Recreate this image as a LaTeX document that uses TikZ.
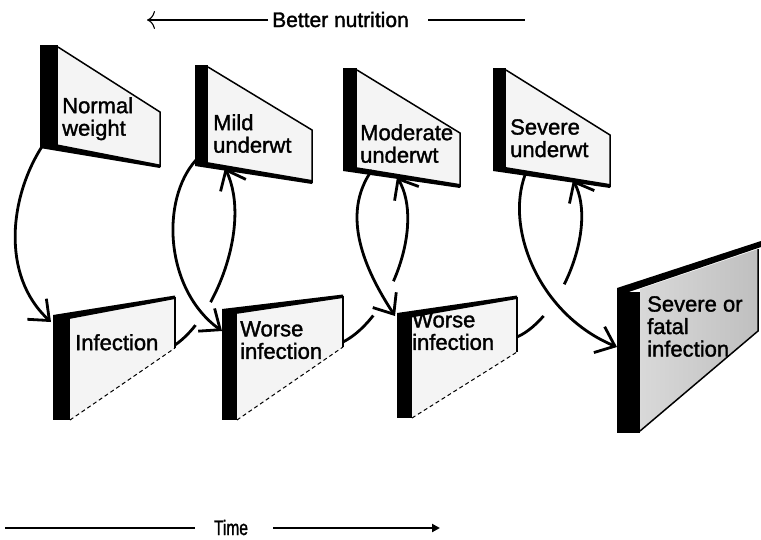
\documentclass[tikz,border=0pt]{standalone}
\usepackage{fontspec}
\setmainfont{Liberation Sans}[FakeBold=1.5]
\usetikzlibrary{arrows.meta}
\begin{document}
\begin{tikzpicture}[x=1pt,y=-1pt,
  lbl/.style={anchor=north west, inner sep=0pt, align=left, font=\fontsize{22}{22.5}\selectfont},
  face/.style={fill=gray!9},
  darkface/.style={left color=gray!30, right color=gray!50},
  edgeline/.style={line width=1.5pt},
  dashedge/.style={line width=1pt, dashed, dash pattern=on 4pt off 3pt},
  curve/.style={line width=2.8pt, -{Straight Barb[length=17pt,width=28pt]}},
  axisline/.style={line width=1.1pt}
]
\useasboundingbox (0,0) rectangle (761,539);
\fill[white] (0,0) rectangle (761,539);

% ---------- top signs ----------
% Normal weight
\fill[face] (58,47) -- (160,112) -- (160,166) -- (58,145) -- cycle;
\draw[edgeline] (58,47) -- (160,112) -- (160,167);
\fill (40,141) -- (160,164.5) -- (160,168) -- (40,148) -- cycle;
\fill (40,45) rectangle (58,145);
% Mild underwt
\fill[face] (208,67) -- (312,130) -- (312,182) -- (208,163) -- cycle;
\draw[edgeline] (208,67) -- (312,130) -- (312,183);
\fill (195,160) -- (312,180) -- (312,184) -- (195,166) -- cycle;
\fill (195,65) rectangle (208,163);
% Moderate underwt
\fill[face] (357,70) -- (460,133) -- (460,186) -- (357,168) -- cycle;
\draw[edgeline] (357,70) -- (460,133) -- (460,187);
\fill (343,165) -- (460,184) -- (460,188) -- (343,171) -- cycle;
\fill (343,68) rectangle (357,168);
% Severe underwt
\fill[face] (506,70) -- (610,135) -- (610,186) -- (506,168) -- cycle;
\draw[edgeline] (506,70) -- (610,135) -- (610,187);
\fill (493,165) -- (610,184) -- (610,188) -- (493,171) -- cycle;
\fill (493,68) rectangle (506,168);

% ---------- bottom signs ----------
% Infection
\fill[face] (70,313) -- (175,297) -- (175,348) -- (70,420) -- cycle;
\draw[edgeline] (175,297) -- (175,348);
\draw[dashedge] (70,420) -- (175,348);
\fill (53,315) -- (175,295.5) -- (175,299) -- (53,322) -- cycle;
\fill (53,318) rectangle (70,420);
% Worse infection (B)
\fill[face] (237,311) -- (343,296) -- (343,347) -- (237,420) -- cycle;
\draw[edgeline] (343,296) -- (343,347);
\draw[dashedge] (237,420) -- (343,347);
\fill (222,309) -- (343,294.5) -- (343,298) -- (222,316) -- cycle;
\fill (222,313) rectangle (237,420);
% Worse infection (C)
\fill[face] (412,315) -- (517,297) -- (517,352) -- (412,418) -- cycle;
\draw[edgeline] (517,297) -- (517,352);
\draw[dashedge] (412,418) -- (517,352);
\fill (397,313) -- (517,295.5) -- (517,299) -- (397,320) -- cycle;
\fill (397,317) rectangle (412,418);
% Severe or fatal infection
\shade[darkface] (640,289) -- (758,249) -- (758,330) -- (640,430) -- cycle;
\draw[edgeline] (758,249) -- (758,331) -- (640,431);
\fill (617,288) -- (761,241) -- (761,247) -- (617,296) -- cycle;
\fill (617,292) rectangle (640,433);

% ---------- connector end points ----------
\coordinate (d1s) at (43,145);  \coordinate (d1e) at (51,322);
\coordinate (d2s) at (196,160); \coordinate (d2e) at (222,331);
\coordinate (d3s) at (372,170); \coordinate (d3e) at (395,316);
\coordinate (d4s) at (525,175); \coordinate (d4e) at (617,347);
\coordinate (u1s) at (175,345); \coordinate (u1e) at (225,168);
\coordinate (u2s) at (343,342); \coordinate (u2e) at (397,177);
\coordinate (u3s) at (517,337); \coordinate (u3e) at (573,180);
\coordinate (x1) at (203.4,313.9);
\coordinate (x2) at (384.5,299);
\coordinate (x3) at (554.8,300.7);

% ---------- upward curves (broken where crossed) ----------
\begin{scope}[even odd rule]
  \clip (0,0) rectangle (761,539) (x1) circle (14);
  \draw[curve] (u1s) .. controls (215,318) and (252,225) .. (u1e);
\end{scope}
\begin{scope}[even odd rule]
  \clip (0,0) rectangle (761,539) (x2) circle (20);
  \draw[curve] (u2s) .. controls (390,318) and (425,225) .. (u2e);
\end{scope}
\begin{scope}[even odd rule]
  \clip (0,0) rectangle (761,539) (x3) circle (19);
  \draw[curve] (u3s) .. controls (560,318) and (598,228) .. (u3e);
\end{scope}

% ---------- downward curves ----------
\draw[curve] (d1s) .. controls (10,195) and (0,275) .. (d1e);
\draw[curve] (d2s) .. controls (160,200) and (165,290) .. (d2e);
\draw[curve] (d3s) .. controls (340,215) and (365,270) .. (d3e);
\draw[curve] (d4s) .. controls (505,230) and (540,315) .. (d4e);

% ---------- labels ----------
\node[lbl] (nw) at (62,97) {Normal\\weight};
\node[lbl] (mu) at (213,114) {Mild\\underwt};
\node[lbl] (mo) at (360,124) {Moderate\\underwt};
\node[lbl] (su) at (510,119) {Severe\\underwt};
\node[lbl] (inf) at (75,334) {Infection};
\node[lbl] (wi1) at (240,321) {Worse\\infection};
\node[lbl] (wi2) at (412,312) {Worse\\infection};
\node[lbl] (sf) at (647,296) {Severe or\\fatal\\infection};

% ---------- axes ----------
\node[anchor=base west, inner sep=0pt, font=\fontsize{21}{21}\selectfont] (bn) at (272,27) {Better nutrition};
\coordinate (bnLa) at (147,20); \coordinate (bnLb) at (268,20);
\coordinate (bnRa) at (428,20); \coordinate (bnRb) at (525,20);
\draw[axisline, -{To[length=8pt,width=18pt]}] (bnLb) -- (bnLa);
\draw[axisline] (bnRa) -- (bnRb);

\node[anchor=base, inner sep=0pt, font=\fontsize{21}{21}\selectfont] (tm) at (231,535) {\scalebox{0.74}[1]{Time}};
\coordinate (tLa) at (5,528); \coordinate (tLb) at (195,528);
\coordinate (tRa) at (273,528); \coordinate (tRb) at (440,528);
\draw[line width=2pt] (tLa) -- (tLb);
\draw[line width=2pt, -{Triangle[length=8pt,width=8pt]}] (tRa) -- (tRb);
\end{tikzpicture}
\end{document}
